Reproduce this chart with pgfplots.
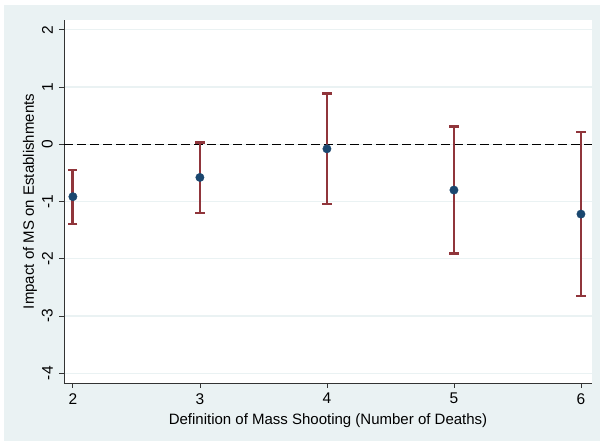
\documentclass[border=0pt]{standalone}
\usepackage{pgfplots}
\pgfplotsset{compat=1.18}
\usepackage{fontspec}
\setmainfont{Liberation Sans}
\definecolor{bgc}{RGB}{234,242,243}
\definecolor{navyc}{RGB}{26,71,111}
\definecolor{cranc}{RGB}{144,53,59}
\begin{document}
\begin{tikzpicture}[x=1pt,y=1pt]
\fill[white] (0,0) rectangle (600,441);
\fill[bgc] (4,0) rectangle (600,436);
\begin{axis}[
  at={(64pt,58pt)}, anchor=south west,
  scale only axis, width=528pt, height=363pt,
  xmin=1.93, xmax=6.087, ymin=-4.17, ymax=2.17,
  axis background/.style={fill=white},
  axis x line*=bottom, axis y line*=left,
  axis line style={black!80, line width=0.8pt},
  xtick={2,3,4,5,6}, ytick={-4,-3,-2,-1,0,1,2},
  tick align=outside, tick style={black!80, line width=0.8pt},
  major tick length=5pt,
  ymajorgrids, grid style={bgc, line width=1.2pt},
  yticklabel style={rotate=90, anchor=south, inner sep=6pt},
  xticklabel style={inner sep=5pt},
  ticklabel style={font=\fontsize{15.5}{15.5}\selectfont},
  /pgf/number format/assume math mode=true,
  xlabel={Definition of Mass Shooting (Number of Deaths)},
  ylabel={Impact of MS on Establishments},
  label style={font=\fontsize{15}{15}\selectfont},
  xlabel style={at={(axis description cs:0.5,-0.104)}, anchor=center},
  ylabel style={at={(axis description cs:-0.0644,0.5)}, anchor=center, rotate=0},
]
\addplot[black, line width=1.1pt, dash pattern=on 9pt off 4pt] coordinates {(1.93,0) (6.087,0)};
\addplot[only marks, mark=*, mark size=4.2pt, mark options={fill=navyc, draw=navyc}]
  coordinates {(2,-0.916) (3,-0.58) (4,-0.08) (5,-0.80) (6,-1.22)};
\addplot[draw=none, mark=none, forget plot,
  error bars/.cd, y dir=both, y explicit,
  error bar style={cranc, line width=2.8pt},
  error mark options={cranc, line width=2.2pt, mark size=4.6pt, rotate=90}]
  coordinates {
  (2,-0.916) += (0,0.466) -= (0,0.474)
  (3,-0.58) += (0,0.61) -= (0,0.62)
  (4,-0.08) += (0,0.965) -= (0,0.96)
  (5,-0.80) += (0,1.11) -= (0,1.11)
  (6,-1.22) += (0,1.43) -= (0,1.43)
  };
\end{axis}
\pgfresetboundingbox
\path[use as bounding box] (0,0) rectangle (600,441);
\end{tikzpicture}
\end{document}
